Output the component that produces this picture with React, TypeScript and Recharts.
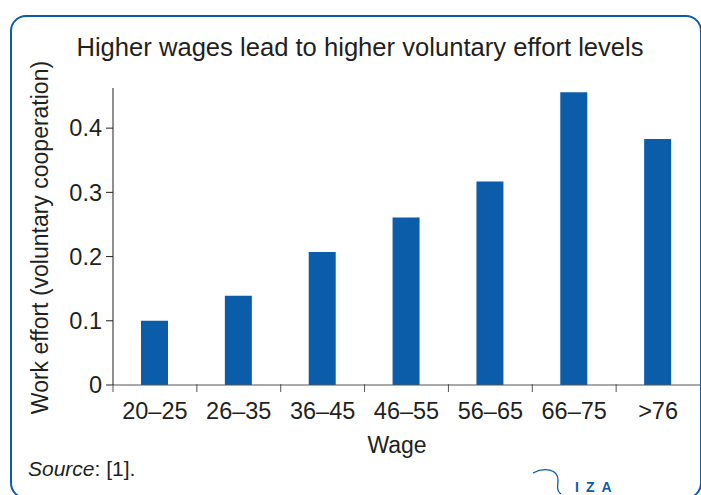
import { BarChart, Bar, XAxis, YAxis } from "recharts";

const wageBands = ["20–25", "26–35", "36–45", "46–55", "56–65", "66–75", ">76"];
const effortValues = [0.1, 0.139, 0.207, 0.261, 0.317, 0.456, 0.383];
const effortTicks = [0, 0.1, 0.2, 0.3, 0.4];

const chartData = wageBands.map((wage, i) => ({ wage, effort: effortValues[i] }));

const font = "'Liberation Sans', Arial, sans-serif";
const ink = "#231f20";
const blue = "#0b5ca9";

// category label plus a tick mark on the left edge of its band
function WageTick(props: any) {
  const { x, y, payload } = props;
  const half = payload?.offset ?? 587 / 14;
  return (
    <g>
      <line x1={x - half} x2={x - half} y1={y - 18} y2={y - 10} stroke="#555" strokeWidth={1} />
      <text x={x} y={y} dy="0.71em" textAnchor="middle" fontSize={23.5} fill={ink} fontFamily={font}>
        {payload.value}
      </text>
    </g>
  );
}

export default function App() {
  return (
    <div style={{ position: "absolute", left: 0, top: 0, width: 701, height: 495, overflow: "hidden", background: "#fff", fontFamily: font }}>
      <div style={{ position: "absolute", left: 10, top: 15, width: 688, height: 480, border: `2.5px solid ${blue}`, borderRadius: 16 }} />
      <div style={{ position: "absolute", left: 0, top: 33, width: 720, textAlign: "center", fontSize: 25.6, color: ink }}>
        Higher wages lead to higher voluntary effort levels
      </div>
      <div style={{ position: "absolute", left: 40, top: 238, width: 0, height: 0 }}>
        <div style={{ position: "absolute", left: -200, top: -14, width: 400, textAlign: "center", fontSize: 23, color: ink, transform: "rotate(-90deg)", whiteSpace: "nowrap" }}>
          Work effort (voluntary cooperation)
        </div>
      </div>
      <div style={{ position: "absolute", left: 0, top: 0 }}>
        <BarChart width={701} height={495} data={chartData} margin={{ top: 88, right: 1, left: 0, bottom: 50 }}>
          <YAxis
            type="number"
            domain={[0, 0.4625]}
            ticks={effortTicks}
            tickFormatter={(v: number) => (v === 0 ? "0" : String(v))}
            width={113}
            tick={{ fontSize: 23.5, fill: ink, fontFamily: font }}
            tickSize={7}
            tickMargin={4}
            stroke={ink}
            allowDataOverflow
          />
          <XAxis
            dataKey="wage"
            tickLine={false}
            tickSize={0}
            tickMargin={17}
            tick={<WageTick />}
            stroke="#555"
            height={60}
            interval={0}
          />
          <Bar dataKey="effort" fill={blue} barSize={27} isAnimationActive={false} />
        </BarChart>
      </div>
      <div style={{ position: "absolute", left: 0, top: 432, width: 794, textAlign: "center", fontSize: 23, color: ink }}>Wage</div>
      <div style={{ position: "absolute", left: 28, top: 457, fontSize: 21, color: ink }}>
        <i>Source</i>: [1].
      </div>
      <svg style={{ position: "absolute", left: 530, top: 468 }} width={100} height={27}>
        <path d="M3 5 C 14 -1, 28 1, 28 12 C 28 18, 26 22, 31 26" fill="none" stroke={blue} strokeWidth={1.3} />
        <text x={45} y={24} fill={blue} fontSize={14} fontWeight="bold" letterSpacing={7} fontFamily={font}>IZA</text>
      </svg>
    </div>
  );
}
